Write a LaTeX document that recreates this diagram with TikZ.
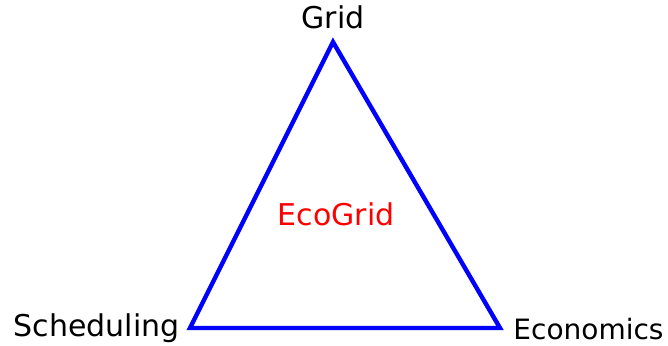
\documentclass[tikz,border=0pt]{standalone}
\usepackage{fontspec}
\setmainfont{DejaVu Sans}
\usepackage{tikz}
\usetikzlibrary{positioning}

\begin{document}
\begin{tikzpicture}[x=0.5pt, y=-0.5pt,
    corner/.style={font=\fontsize{15}{18}\selectfont, inner sep=0pt},
    side/.style={draw=blue, line width=2.2pt, line join=miter}]
   \useasboundingbox (0,0) rectangle (668,346);
   \coordinate (top) at (333,42);
   \coordinate (left) at (190,328);
   \coordinate (right) at (500,328);
   \node[corner, anchor=base] (grid) at (333,29) {Grid};
   \node[corner, anchor=base east] (sched) at (180,337) {Scheduling};
   \node[corner, anchor=base west, font=\fontsize{14}{17}\selectfont] (econ) at (513,340) {Economics};
   \node[corner, anchor=base, text=red] (eco) at (336,226) {EcoGrid};
   \draw[side] (top) -- (right) -- (left) -- cycle;
\end{tikzpicture}
\end{document}
